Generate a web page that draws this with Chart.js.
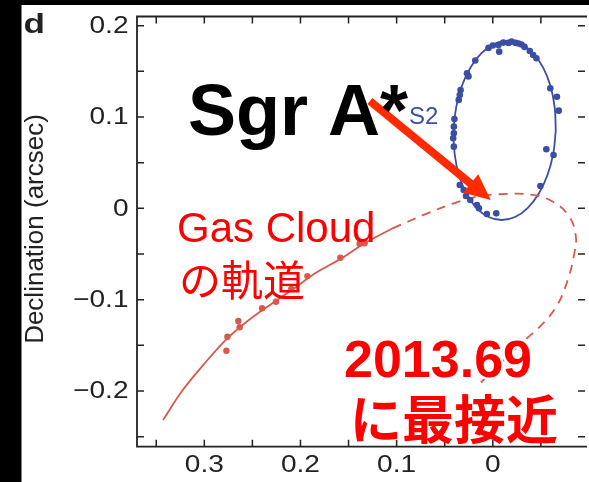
<!DOCTYPE html>
<html>
<head>
<meta charset="utf-8">
<script src="https://cdn.jsdelivr.net/npm/chart.js@4/dist/chart.umd.min.js"></script>
<style>
  html, body { margin: 0; padding: 0; background: #fff; }
  canvas { display: block; }
</style>
</head>
<body>
<canvas id="c" width="589" height="482"></canvas>
<script>
// Axis ticks (arcsec). RA offset axis runs east-to-west (reversed).
const xTickValues = [0.35, 0.3, 0.25, 0.2, 0.15, 0.1, 0.05, 0, -0.05];
const xLabelValues = [0.3, 0.2, 0.1, 0];
const xLabelText = ['0.3', '0.2', '0.1', '0'];
const yTickValues = [-0.25, -0.2, -0.15, -0.1, -0.05, 0, 0.05, 0.1, 0.15, 0.2];
const yLabelValues = [-0.2, -0.1, 0, 0.1, 0.2];
const yLabelText = ['\u22120.2', '\u22120.1', '0', '0.1', '0.2'];

// S2 orbit fit
const s2OrbitRA = [-0.0655, -0.0644, -0.0599, -0.0521, -0.0416, -0.0291, -0.0155, -0.0016, 0.0115, 0.0230, 0.0321, 0.0381, 0.0407, 0.0397, 0.0352, 0.0273, 0.0169, 0.0043, -0.0093, -0.0231, -0.0362, -0.0477, -0.0568, -0.0629, -0.0655];
const s2OrbitDec = [0.0852, 0.1106, 0.1342, 0.1545, 0.1701, 0.1800, 0.1832, 0.1800, 0.1701, 0.1545, 0.1342, 0.1106, 0.0852, 0.0598, 0.0362, 0.0159, 0.0003, -0.0095, -0.0128, -0.0095, 0.0003, 0.0159, 0.0362, 0.0598, 0.0852];

// S2 astrometric positions
const s2RA = [0.0044, 0.0000, -0.0059, -0.0067, -0.0110, -0.0162, -0.0196, -0.0237, -0.0268, -0.0299, -0.0330, -0.0385, -0.0420, -0.0454, 0.0182, 0.0268, 0.0253, 0.0335, 0.0343, 0.0354, 0.0399, 0.0405, 0.0405, 0.0412, 0.0405, -0.0598, -0.0667, -0.0686, -0.0557, -0.0632, -0.0495, 0.0343, 0.0302, 0.0278, 0.0234, 0.0165, 0.0144, 0.0062, -0.0036];
const s2Dec = [0.1756, 0.1783, 0.1789, 0.1715, 0.1814, 0.1811, 0.1825, 0.1811, 0.1805, 0.1794, 0.1767, 0.1723, 0.1679, 0.1643, 0.1619, 0.1479, 0.1444, 0.1296, 0.1241, 0.1187, 0.0978, 0.0894, 0.0821, 0.0767, 0.0675, 0.1314, 0.1222, 0.1069, 0.0646, 0.0584, 0.0244, 0.0255, 0.0200, 0.0135, 0.0091, 0.0036, 0.0000, -0.0062, -0.0055];

// Gas cloud orbit: fitted (observed) part and predicted part
const cloudFitRA = [0.3430, 0.3224, 0.2982, 0.2760, 0.2536, 0.2296, 0.2090, 0.1848, 0.1574, 0.1333, 0.1041];
const cloudFitDec = [-0.2319, -0.1990, -0.1680, -0.1424, -0.1223, -0.1041, -0.0895, -0.0712, -0.0548, -0.0383, -0.0219];
const cloudPredRA = [0.1041, 0.0680, 0.0405, 0.0165, -0.0144, -0.0420, -0.0626, -0.0797, -0.0864, -0.0848, -0.0780, -0.0660, -0.0488, -0.0333, -0.0113, 0.0124];
const cloudPredDec = [-0.0219, -0.0055, 0.0055, 0.0127, 0.0157, 0.0146, 0.0072, -0.0092, -0.0311, -0.0493, -0.0785, -0.1078, -0.1297, -0.1443, -0.1666, -0.1907];

// Gas cloud positions
const cloudRA = [0.2770, 0.2760, 0.2646, 0.2632, 0.2399, 0.2255, 0.2096, 0.1928, 0.1585, 0.1385, 0.1333];
const cloudDec = [-0.1560, -0.1406, -0.1234, -0.1303, -0.1095, -0.1023, -0.0884, -0.0742, -0.0541, -0.0388, -0.0383];

// Arrow from the Sgr A* label to the black hole position
const arrowRA = [0.1278, 0.0021];
const arrowDec = [0.1175, 0.0091];

const pts = (xs, ys) => xs.map((x, i) => ({ x: x, y: ys[i] }));

const BLUE = '#3a4ea4';
const CLOUD = '#d8584c';
const RED = '#ff0000';
const INK = '#222222';
const LATIN = '"Liberation Sans", Arial, Helvetica, sans-serif';
const CJK = '"Noto Sans CJK JP", "Noto Sans CJK SC", sans-serif';

function stretchedText(ctx, text, x, y, sx, align) {
  ctx.save();
  ctx.translate(x, y);
  ctx.scale(sx, 1);
  ctx.textAlign = align;
  ctx.fillText(text, 0, 0);
  ctx.restore();
}

const decor = {
  id: 'decor',
  beforeDraw(chart) {
    const ctx = chart.ctx;
    ctx.save();
    ctx.fillStyle = '#ffffff';
    ctx.fillRect(0, 0, chart.width, chart.height);
    ctx.fillStyle = '#000000';
    ctx.fillRect(0, 0, 21.5, chart.height);
    ctx.fillRect(0, 0, chart.width, 5);
    ctx.restore();
  },
  afterDraw(chart) {
    const ctx = chart.ctx;
    const xs = chart.scales.x, ys = chart.scales.y;
    const a = chart.chartArea;
    ctx.save();

    // frame
    ctx.strokeStyle = INK;
    ctx.lineWidth = 1.8;
    ctx.beginPath();
    ctx.moveTo(a.right + 2, a.top);
    ctx.lineTo(a.left, a.top);
    ctx.lineTo(a.left, a.bottom);
    ctx.lineTo(a.right + 2, a.bottom);
    ctx.stroke();

    // inward ticks
    const tl = 7;
    ctx.lineWidth = 1.5;
    ctx.beginPath();
    xTickValues.forEach(v => {
      const px = xs.getPixelForValue(v);
      ctx.moveTo(px, a.bottom); ctx.lineTo(px, a.bottom - tl);
      ctx.moveTo(px, a.top); ctx.lineTo(px, a.top + tl);
    });
    yTickValues.forEach(v => {
      const py = ys.getPixelForValue(v);
      ctx.moveTo(a.left, py); ctx.lineTo(a.left + tl, py);
      ctx.moveTo(a.right, py); ctx.lineTo(a.right - tl, py);
    });
    ctx.stroke();

    // tick labels
    ctx.fillStyle = INK;
    ctx.font = '24px ' + LATIN;
    ctx.textBaseline = 'alphabetic';
    xLabelValues.forEach((v, i) => {
      stretchedText(ctx, xLabelText[i], xs.getPixelForValue(v), 471.5, 1.17, 'center');
    });
    yLabelValues.forEach((v, i) => {
      stretchedText(ctx, yLabelText[i], 128.5, ys.getPixelForValue(v) + 7.5, 1.17, 'right');
    });

    // axis title
    ctx.save();
    ctx.translate(42.5, 229);
    ctx.rotate(-Math.PI / 2);
    ctx.font = '26px ' + LATIN;
    ctx.textAlign = 'center';
    ctx.fillText('Declination (arcsec)', 0, 0);
    ctx.restore();

    // panel letter
    ctx.font = 'bold 27px ' + LATIN;
    stretchedText(ctx, 'd', 23.5, 33.3, 1.3, 'left');

    // arrow
    const x0 = xs.getPixelForValue(arrowRA[0]), y0 = ys.getPixelForValue(arrowDec[0]);
    const x1 = xs.getPixelForValue(arrowRA[1]), y1 = ys.getPixelForValue(arrowDec[1]);
    const ang = Math.atan2(y1 - y0, x1 - x0);
    const hl = 26, hw = 12;
    const bx = x1 - hl * Math.cos(ang), by = y1 - hl * Math.sin(ang);
    ctx.strokeStyle = '#ff2a00';
    ctx.fillStyle = '#ff2a00';
    ctx.lineWidth = 8;
    ctx.lineCap = 'butt';
    ctx.beginPath();
    ctx.moveTo(x0, y0);
    ctx.lineTo(bx + 2 * Math.cos(ang), by + 2 * Math.sin(ang));
    ctx.stroke();
    ctx.beginPath();
    ctx.moveTo(x1, y1);
    ctx.lineTo(bx + hw * Math.sin(ang), by - hw * Math.cos(ang));
    ctx.lineTo(bx - hw * Math.sin(ang), by + hw * Math.cos(ang));
    ctx.closePath();
    ctx.fill();

    // labels
    ctx.textAlign = 'left';
    ctx.textBaseline = 'alphabetic';
    ctx.fillStyle = '#000000';
    ctx.font = 'bold 72px ' + LATIN;
    ctx.fillText('Sgr A*', 188, 135);

    ctx.fillStyle = BLUE;
    ctx.font = '24px ' + LATIN;
    ctx.fillText('S2', 409, 124);

    ctx.fillStyle = RED;
    ctx.font = '42px ' + LATIN;
    ctx.fillText('Gas Cloud', 177, 241.5);
    ctx.font = '42px ' + CJK;
    ctx.textBaseline = 'middle';
    ctx.fillText('の軌道', 179, 280);

    ctx.textBaseline = 'alphabetic';
    ctx.font = 'bold 52px ' + LATIN;
    ctx.strokeStyle = '#ffffff';
    ctx.lineWidth = 5;
    ctx.lineJoin = 'round';
    ctx.strokeText('2013.69', 344, 376.5);
    ctx.fillText('2013.69', 344, 376.5);
    ctx.font = 'bold 52px ' + CJK;
    ctx.textBaseline = 'middle';
    ctx.fillText('に最接近', 350, 419);

    ctx.restore();
  }
};

new Chart(document.getElementById('c'), {
  type: 'scatter',
  data: {
    datasets: [
      { label: 'S2', data: pts(s2RA, s2Dec), backgroundColor: BLUE, borderColor: BLUE, pointRadius: 3.3, pointBorderWidth: 0, order: 0 },
      { label: 'Gas cloud', data: pts(cloudRA, cloudDec), backgroundColor: CLOUD, borderColor: CLOUD, pointRadius: 3.2, pointBorderWidth: 0, order: 0 },
      { label: 'S2 orbit', data: pts(s2OrbitRA, s2OrbitDec), showLine: true, tension: 0.4, borderColor: BLUE, borderWidth: 1.8, pointRadius: 0, order: 2 },
      { label: 'Cloud orbit', data: pts(cloudFitRA, cloudFitDec), showLine: true, tension: 0.4, borderColor: CLOUD, borderWidth: 1.8, pointRadius: 0, order: 1 },
      { label: 'Cloud orbit (predicted)', data: pts(cloudPredRA, cloudPredDec), showLine: true, tension: 0.4, borderColor: CLOUD, borderWidth: 1.8, borderDash: [9, 7], pointRadius: 0, order: 1 }
    ]
  },
  options: {
    responsive: false,
    animation: false,
    events: [],
    layout: { padding: { left: 137, top: 16.5, right: 0, bottom: 35.3 } },
    plugins: { legend: { display: false }, tooltip: { enabled: false } },
    scales: {
      x: { type: 'linear', display: false, reverse: true, min: -0.0959, max: 0.370 },
      y: { type: 'linear', display: false, min: -0.261, max: 0.210 }
    }
  },
  plugins: [decor]
});
</script>
</body>
</html>
